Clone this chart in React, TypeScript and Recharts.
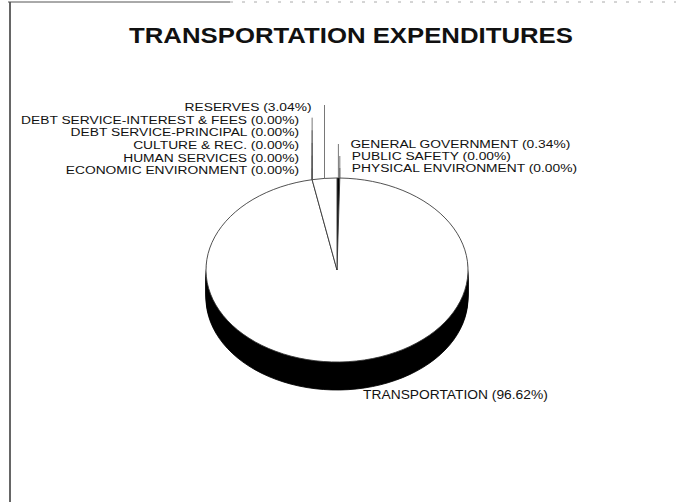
import React from 'react';
import { PieChart, Pie, Cell } from 'recharts';

// slices, clockwise from 12 o'clock
const categories = [
  'GENERAL GOVERNMENT',
  'PUBLIC SAFETY',
  'PHYSICAL ENVIRONMENT',
  'TRANSPORTATION',
  'ECONOMIC ENVIRONMENT',
  'HUMAN SERVICES',
  'CULTURE & REC.',
  'DEBT SERVICE-PRINCIPAL',
  'DEBT SERVICE-INTEREST & FEES',
  'RESERVES',
];
const shares = [0.34, 0, 0, 96.62, 0, 0, 0, 0, 0, 3.04];

const leftLabels = [
  'RESERVES',
  'DEBT SERVICE-INTEREST & FEES',
  'DEBT SERVICE-PRINCIPAL',
  'CULTURE & REC.',
  'HUMAN SERVICES',
  'ECONOMIC ENVIRONMENT',
];
const rightLabels = ['GENERAL GOVERNMENT', 'PUBLIC SAFETY', 'PHYSICAL ENVIRONMENT'];
const bottomLabels = ['TRANSPORTATION'];
const chartTitle = 'TRANSPORTATION EXPENDITURES';

const W = 676;
const H = 502;
const CX = 337;
const CY = 270;
const RX = 131;
const RY = 92;
const DEPTH = 28;
const TILT = RY / RX;
const START = 90;
const END = -270;
const FONT = '"Liberation Sans", Arial, sans-serif';

const pieData = categories.map((name, i) => ({ name, value: shares[i] }));
const total = shares.reduce((a, b) => a + b, 0);
const layers = Array.from({ length: 12 }, (_, i) => DEPTH - i * 2);
const chartH = Math.ceil((CY + DEPTH + RY) / TILT) + 4;

const midAngle = (name: string) => {
  let acc = 0;
  for (let i = 0; i < categories.length; i++) {
    const span = (shares[i] / total) * 360;
    if (categories[i] === name) return START - acc - span / 2;
    acc += span;
  }
  return START;
};

const rim = (angle: number) => {
  const r = (angle * Math.PI) / 180;
  return { x: CX + RX * Math.cos(r), y: CY - RY * Math.sin(r) };
};

const labelText = (name: string) =>
  `${name} (${shares[categories.indexOf(name)].toFixed(2)}%)`;

function Label({ x, y, anchor, children, size = 11.5, sx = 1.2, bold = false }: any) {
  return (
    <text
      transform={`translate(${x},${y}) scale(${sx},1)`}
      textAnchor={anchor}
      fontFamily={FONT}
      fontSize={size}
      fontWeight={bold ? 'bold' : 'normal'}
      fill="#111"
    >
      {children}
    </text>
  );
}

export default function App() {
  return (
    <div style={{ position: 'absolute', left: 0, top: 0, width: W, height: H, background: '#fff', overflow: 'hidden' }}>
      <div
        style={{
          position: 'absolute',
          left: 0,
          top: 0,
          width: W,
          height: chartH,
          transform: `scaleY(${TILT})`,
          transformOrigin: '0 0',
        }}
      >
        <PieChart width={W} height={chartH} margin={{ top: 0, right: 0, bottom: 0, left: 0 }}>
          {layers.map((d) => (
            <Pie
              key={`side-${d}`}
              data={pieData}
              dataKey="value"
              cx={CX}
              cy={(CY + d) / TILT}
              innerRadius={0}
              outerRadius={RX}
              startAngle={START}
              endAngle={END}
              fill="#000"
              stroke="#000"
              strokeWidth={1}
              isAnimationActive={false}
            />
          ))}
          <Pie
            data={pieData}
            dataKey="value"
            cx={CX}
            cy={CY / TILT}
            innerRadius={0}
            outerRadius={RX}
            startAngle={START}
            endAngle={END}
            stroke="#333"
            strokeWidth={1}
            isAnimationActive={false}
          >
            {pieData.map((d) => (
              <Cell key={d.name} fill={d.name === 'GENERAL GOVERNMENT' ? '#000' : '#fff'} />
            ))}
          </Pie>
        </PieChart>
      </div>

      <svg width={W} height={H} style={{ position: 'absolute', left: 0, top: 0, pointerEvents: 'none' }}>
        {/* scanned frame edges */}
        <line x1={10} y1={2} x2={10} y2={H} stroke="#333" strokeWidth={1.5} />
        <line x1={8} y1={2} x2={230} y2={2} stroke="#555" strokeWidth={1} />
        <line x1={230} y1={2} x2={W} y2={2} stroke="#aaa" strokeWidth={1} strokeDasharray="3 9" />

        <Label x={351} y={43} anchor="middle" size={23} sx={1.12} bold>
          {chartTitle}
        </Label>

        {leftLabels.map((name, i) => {
          const p = rim(midAngle(name));
          const y = 111 + i * 12.65;
          return (
            <g key={name}>
              <line x1={p.x} y1={y - 6} x2={p.x} y2={p.y} stroke="#555" strokeWidth={0.8} />
              <Label x={p.x - 13} y={y} anchor="end">
                {labelText(name)}
              </Label>
            </g>
          );
        })}

        {rightLabels.map((name, i) => {
          const p = rim(midAngle(name));
          const y = 148 + i * 12;
          return (
            <g key={name}>
              <line x1={p.x} y1={y - 4} x2={p.x} y2={p.y} stroke="#555" strokeWidth={0.8} />
              <Label x={p.x + 12} y={y} anchor="start">
                {labelText(name)}
              </Label>
            </g>
          );
        })}

        {bottomLabels.map((name) => {
          const p = rim(midAngle(name));
          return (
            <Label key={name} x={p.x + 15} y={p.y + DEPTH + 9} anchor="start" size={12} sx={1.15}>
              {labelText(name)}
            </Label>
          );
        })}
      </svg>
    </div>
  );
}
